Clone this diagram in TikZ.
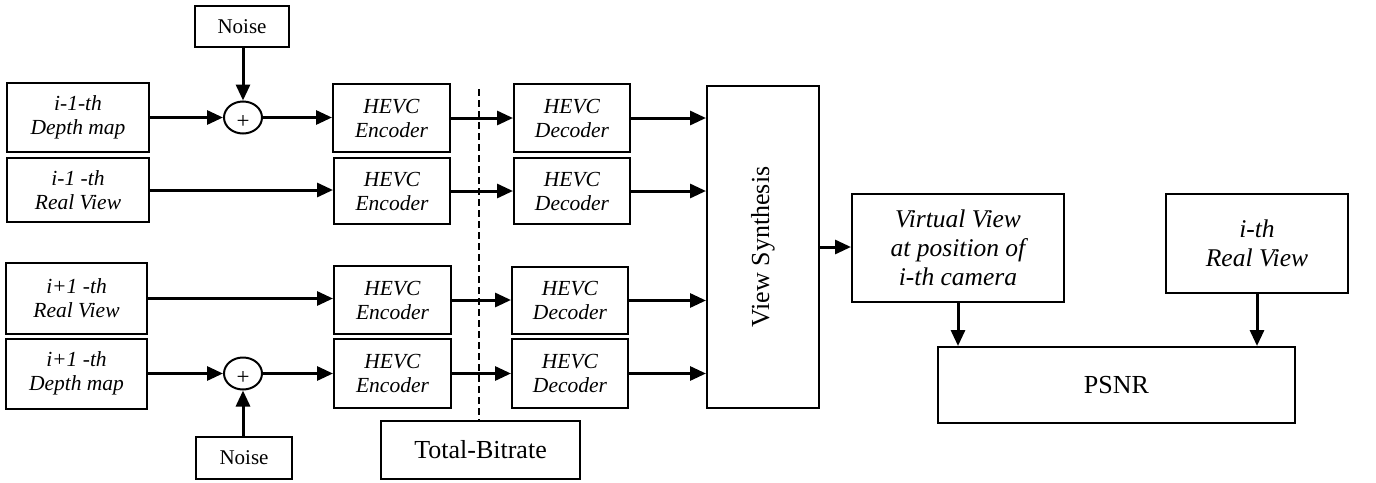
\documentclass[tikz,border=0pt]{standalone}
\usepackage{fontspec}
\setmainfont{Liberation Serif}
\usetikzlibrary{arrows.meta,shapes.geometric}
\begin{document}
\begin{tikzpicture}[x=1pt,y=-1pt,
  box/.style={draw, line width=2pt, inner sep=0pt, align=center},
  smallit/.style={font={\fontsize{21.5pt}{24pt}\selectfont\itshape}},
  smallrm/.style={font={\fontsize{21pt}{24pt}\selectfont}},
  bigit/.style={font={\fontsize{25.5pt}{29pt}\selectfont\itshape}},
  bigrm/.style={font={\fontsize{26pt}{29pt}\selectfont}},
  sumnode/.style={draw, ellipse, line width=2pt, inner sep=0pt, minimum width=38pt, minimum height=32pt},
  plusmark/.style={inner sep=0pt, font={\fontsize{23pt}{23pt}\selectfont}},
  arr/.style={line width=3pt, -{Triangle[length=16pt,width=14pt]}},
  dashline/.style={line width=1.8pt, dash pattern=on 7pt off 4pt}
]
\useasboundingbox (0,0) rectangle (1376,482);

% left inputs
\node[box, smallit, minimum width=142pt, minimum height=69pt] (dm1) at (78,117.5) {i-1-th\\Depth map};
\node[box, smallit, minimum width=142pt, minimum height=64pt] (rv1) at (78,190) {i-1 -th\\Real View};
\node[box, smallit, minimum width=141pt, minimum height=71pt] (rv3) at (76.5,298.5) {i+1 -th\\Real View};
\node[box, smallit, minimum width=141pt, minimum height=70pt] (dm4) at (76.5,373.5) {i+1 -th\\Depth map};

% noise and sums
\node[box, smallrm, minimum width=94pt, minimum height=41pt] (noise1) at (242,26.5) {Noise};
\node[box, smallrm, minimum width=96pt, minimum height=42pt] (noise2) at (244,458) {Noise};
\node[sumnode] (sum1) at (243,117.5) {};
\node[plusmark] (plus1) at (243,122) {+};
\node[sumnode] (sum2) at (243,373.5) {};
\node[plusmark] (plus2) at (243,378) {+};

% encoders
\node[box, smallit, minimum width=117pt, minimum height=68pt] (enc1) at (391.5,118) {HEVC\\Encoder};
\node[box, smallit, minimum width=116pt, minimum height=66pt] (enc2) at (392,191) {HEVC\\Encoder};
\node[box, smallit, minimum width=117pt, minimum height=68pt] (enc3) at (392.5,300) {HEVC\\Encoder};
\node[box, smallit, minimum width=117pt, minimum height=69pt] (enc4) at (392.5,373.5) {HEVC\\Encoder};

% decoders
\node[box, smallit, minimum width=116pt, minimum height=68pt] (dec1) at (572,118) {HEVC\\Decoder};
\node[box, smallit, minimum width=116pt, minimum height=66pt] (dec2) at (572,191) {HEVC\\Decoder};
\node[box, smallit, minimum width=116pt, minimum height=67pt] (dec3) at (570,300.5) {HEVC\\Decoder};
\node[box, smallit, minimum width=116pt, minimum height=69pt] (dec4) at (570,373.5) {HEVC\\Decoder};

% total bitrate and dashed line
\node[box, bigrm, minimum width=199pt, minimum height=58pt] (tb) at (480.5,450) {Total-Bitrate};
\coordinate (dashtop) at (479,89);
\draw[dashline] (dashtop) -- (dashtop |- tb.north);

% view synthesis
\node[box, minimum width=112pt, minimum height=322pt] (vs) at (763,247) {};
\node[bigrm, rotate=90, inner sep=0pt] (vstext) at (vs.center) {View Synthesis};

% right side
\node[box, bigit, minimum width=212pt, minimum height=108pt] (vv) at (958,248) {Virtual View\\at position of\\i-th camera};
\node[box, bigit, minimum width=182pt, minimum height=99pt] (ith) at (1257,243.5) {i-th\\Real View};
\node[box, bigrm, minimum width=357pt, minimum height=76pt] (psnr) at (1116.5,385) {PSNR};

% connectors
\draw[arr] (sum1.north |- noise1.south) -- (sum1.north);
\draw[arr] (sum2.south |- noise2.north) -- (sum2.south);
\draw[arr] (dm1.east) -- (sum1.west);
\draw[arr] (sum1.east) -- (sum1.east -| enc1.west);
\draw[arr] (rv1.east) -- (rv1.east -| enc2.west);
\draw[arr] (rv3.east) -- (rv3.east -| enc3.west);
\draw[arr] (dm4.east) -- (sum2.west);
\draw[arr] (sum2.east) -- (sum2.east -| enc4.west);

\draw[arr] (enc1.east) -- (enc1.east -| dec1.west);
\draw[arr] (enc2.east) -- (enc2.east -| dec2.west);
\draw[arr] (enc3.east) -- (enc3.east -| dec3.west);
\draw[arr] (enc4.east) -- (enc4.east -| dec4.west);

\draw[arr] (dec1.east) -- (dec1.east -| vs.west);
\draw[arr] (dec2.east) -- (dec2.east -| vs.west);
\draw[arr] (dec3.east) -- (dec3.east -| vs.west);
\draw[arr] (dec4.east) -- (dec4.east -| vs.west);

\draw[arr] (vs.east) -- (vs.east -| vv.west);
\draw[arr] (vv.south) -- (vv.south |- psnr.north);
\draw[arr] (ith.south) -- (ith.south |- psnr.north);
\end{tikzpicture}
\end{document}
